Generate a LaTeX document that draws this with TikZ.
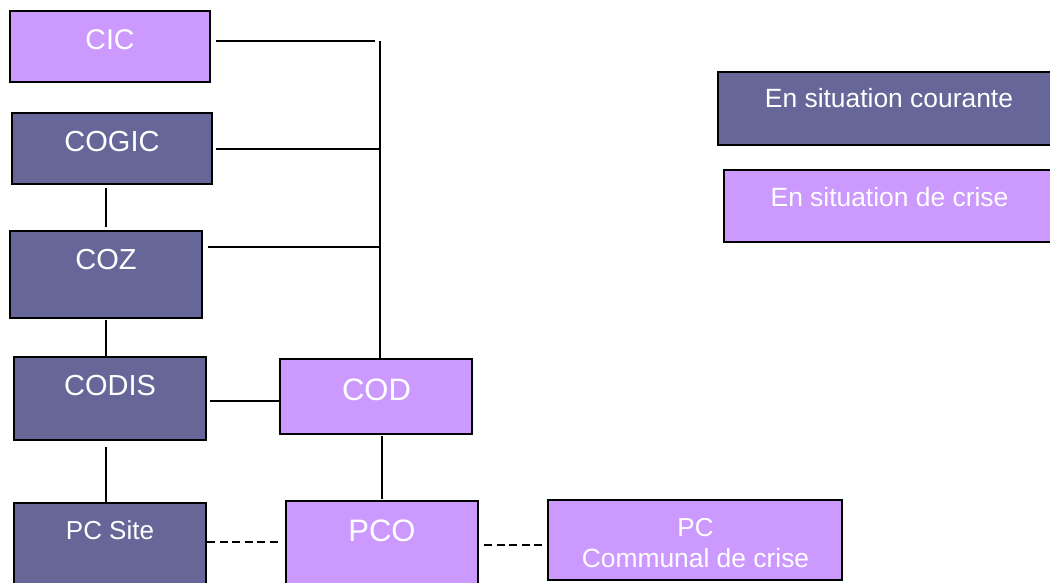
\documentclass[tikz,border=0pt]{standalone}
\usepackage{fontspec}
\setmainfont{Liberation Sans}
\begin{document}
\begin{tikzpicture}[x=1pt,y=-1pt,
  courante/.style={fill=usual, draw=black, line width=1.4pt},
  crise/.style={fill=crisis, draw=black, line width=1.4pt},
  lbl/.style={text=white, anchor=base, inner sep=0pt},
  link/.style={draw=black, line width=1.3pt},
  dashlink/.style={draw=black, line width=1.3pt, dash pattern=on 8pt off 4.5pt}]
\definecolor{usual}{HTML}{666699}
\definecolor{crisis}{HTML}{CC99FF}
\useasboundingbox (0,0) rectangle (1050,583);
\fill[white] (0,0) rectangle (1050,583);

% boxes
\path[crise]    (10,11)  rectangle (210,82);
\path[courante] (12,113) rectangle (212,184);
\path[courante] (10,231) rectangle (202,318);
\path[courante] (14,357) rectangle (206,440);
\path[courante] (14,503) rectangle (206,600);
\path[crise]    (280,359) rectangle (472,434);
\path[crise]    (286,501) rectangle (478,600);
\path[crise]    (548,500) rectangle (842,580);
\path[courante] (718,72)  rectangle (1070,145);
\path[crise]    (724,170) rectangle (1070,242);

% invisible anchors on the boxes
\node[inner sep=0pt, minimum width=200pt, minimum height=71pt] (CIC)   at (110,46.5) {};
\node[inner sep=0pt, minimum width=200pt, minimum height=71pt] (COGIC) at (112,148.5) {};
\node[inner sep=0pt, minimum width=192pt, minimum height=87pt] (COZ)   at (106,274.5) {};
\node[inner sep=0pt, minimum width=192pt, minimum height=83pt] (CODIS) at (110,398.5) {};
\node[inner sep=0pt, minimum width=192pt, minimum height=78pt] (PCsite) at (110,542) {};
\node[inner sep=0pt, minimum width=192pt, minimum height=75pt] (COD)   at (376,396.5) {};
\node[inner sep=0pt, minimum width=192pt, minimum height=82pt] (PCO)   at (382,542) {};
\node[inner sep=0pt, minimum width=294pt, minimum height=80pt] (PCC)   at (695,540) {};

% texts
\node[lbl, font=\fontsize{28.5}{30}\selectfont] (tCIC)   at (110,49.5)  {CIC};
\node[lbl, font=\fontsize{29}{30}\selectfont]   (tCOGIC) at (112,151.5) {COGIC};
\node[lbl, font=\fontsize{29}{30}\selectfont]   (tCOZ)   at (106,269)   {COZ};
\node[lbl, font=\fontsize{29}{30}\selectfont]   (tCODIS) at (110,395)   {CODIS};
\node[lbl, font=\fontsize{26}{28}\selectfont]   (tPCS)   at (110,539)   {PC Site};
\node[lbl, font=\fontsize{31}{32}\selectfont]   (tCOD)   at (376.5,400) {COD};
\node[lbl, font=\fontsize{31}{32}\selectfont]   (tPCO)   at (382,541)   {PCO};
\node[lbl, font=\fontsize{26}{28}\selectfont]   (tPC1)   at (695.5,536) {PC};
\node[lbl, font=\fontsize{26.4}{28}\selectfont] (tPC2)   at (695.5,567) {Communal de crise};
\node[lbl, font=\fontsize{26.4}{28}\selectfont] (tLeg1)  at (889,108)   {En situation courante};
\node[lbl, font=\fontsize{26.4}{28}\selectfont] (tLeg2)  at (889.5,207) {En situation de crise};

% junctions of the vertical bus
\coordinate (j1) at (380,41);
\coordinate (j2) at (380,149);
\coordinate (j3) at (380,247);
\coordinate (dl) at (0,542);
\coordinate (dr) at (0,545);

% solid connectors
\draw[link] ([xshift=6pt]CIC.east |- j1) -- ([xshift=-5.5pt]j1);
\draw[link] (j1) -- (j1 |- COD.north);
\draw[link] ([xshift=4pt]COGIC.east |- j2) -- (j2);
\draw[link] ([xshift=6pt]COZ.east |- j3) -- (j3);
\draw[link] ([yshift=-4pt]COGIC.south -| COZ.north) -- ([yshift=4pt]COZ.north);
\draw[link] ([yshift=-2pt]COZ.south) -- (COZ.south |- CODIS.north);
\draw[link] ([xshift=4pt]CODIS.east |- 0,401) -- (COD.west |- 0,401);
\draw[link] ([yshift=-7pt]CODIS.south -| COZ.south) -- (COZ.south |- PCsite.north);
\draw[link] ([yshift=-2pt]COD.south -| PCO.north) -- ([yshift=2pt]PCO.north);

% dashed connectors
\draw[dashlink] ([xshift=1pt]PCsite.east |- dl) -- ([xshift=-4pt]PCO.west |- dl);
\draw[dashlink] ([xshift=6pt]PCO.east |- dr) -- ([xshift=-2pt]PCC.west |- dr);
\end{tikzpicture}
\end{document}
